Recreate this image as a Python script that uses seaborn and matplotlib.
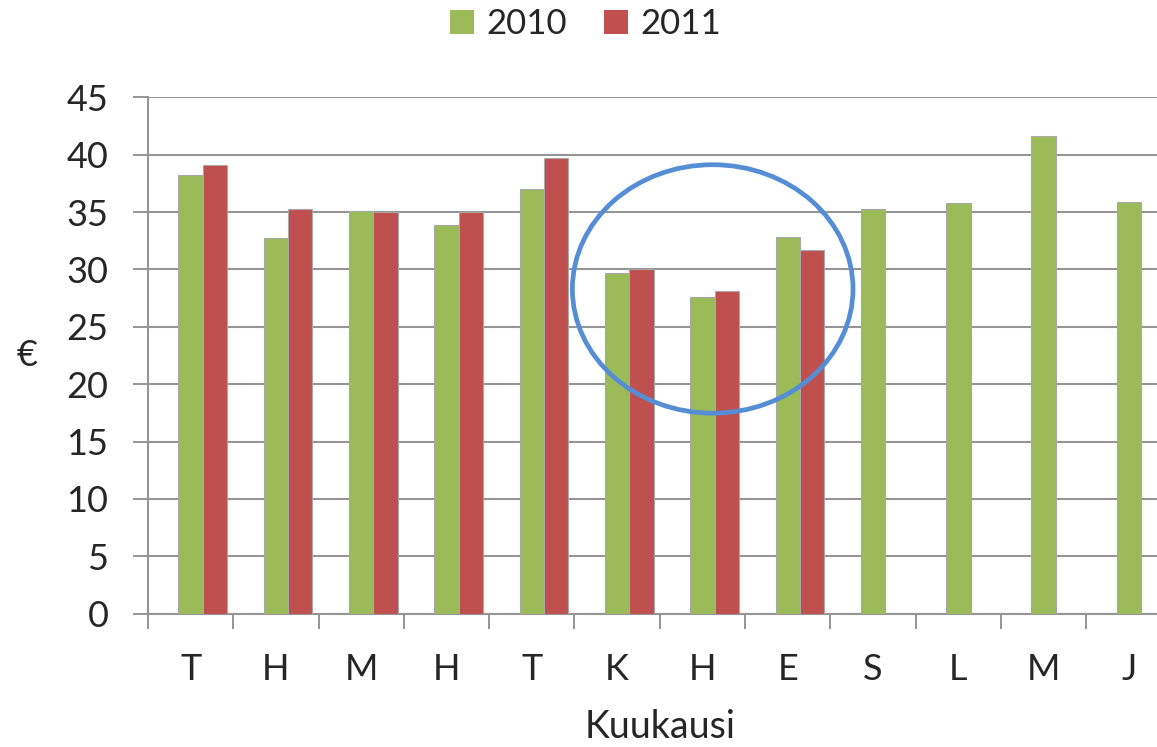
import numpy as np
import pandas as pd
import matplotlib
matplotlib.use("Agg")
import matplotlib.pyplot as plt
from matplotlib.patches import Ellipse, Patch
import seaborn as sns

# ---- data ----
months = ["Tammikuu", "Helmikuu", "Maaliskuu", "Huhtikuu", "Toukokuu", "Kesäkuu",
          "Heinäkuu", "Elokuu", "Syyskuu", "Lokakuu", "Marraskuu", "Joulukuu"]
month_labels = ["T", "H", "M", "H", "T", "K", "H", "E", "S", "L", "M", "J"]
values_2010 = [38.2, 32.7, 35.1, 33.9, 37.0, 29.7, 27.6, 32.8, 35.3, 35.8, 41.6, 35.9]
values_2011 = [39.1, 35.3, 35.0, 35.0, 39.7, 30.0, 28.1, 31.7]
series = ["2010", "2011"]
y_ticks = [0, 5, 10, 15, 20, 25, 30, 35, 40, 45]

# annotation ellipse (data coordinates)
ellipse_center = (6.12, 28.3)
ellipse_size = (3.29, 21.65)

GREEN = "#9BBB59"
RED = "#C0504D"
GRID = "#959595"
BLUE = "#558ED5"

df = pd.concat([
    pd.DataFrame({"kuukausi": months[:len(values_2010)], "euro": values_2010, "vuosi": "2010"}),
    pd.DataFrame({"kuukausi": months[:len(values_2011)], "euro": values_2011, "vuosi": "2011"}),
], ignore_index=True)

sns.set_theme(style="white")
plt.rcParams["font.family"] = ["Lato", "DejaVu Sans"]

W, H = 1157, 747
fig = plt.figure(figsize=(W / 100, H / 100), dpi=100)
left, right, top, bottom = 148, 1171.6, 97.3, 613.7
ax = fig.add_axes([left / W, (H - bottom) / H, (right - left) / W, (bottom - top) / H])

pad_level = "_pad"
sns.barplot(data=df, x="kuukausi", y="euro", hue="vuosi", order=months,
            hue_order=[pad_level] + series,
            palette={pad_level: "white", "2010": GREEN, "2011": RED},
            width=0.855, dodge=True, saturation=1, errorbar=None,
            edgecolor="#a8a8a8", linewidth=0.8, legend=False, ax=ax, zorder=3)

ax.add_patch(Ellipse(ellipse_center, ellipse_size[0], ellipse_size[1], fill=False,
                     edgecolor=BLUE, linewidth=3.4, zorder=5))

ax.set_xlim(-0.5, len(months) - 0.5)
ax.set_ylim(0, 45)
ax.set_yticks(y_ticks)
ax.set_yticklabels([str(v) for v in y_ticks], fontsize=26)
ax.set_xticks(range(len(months)))
ax.set_xticklabels(month_labels, fontsize=26)
ax.set_xticks(np.arange(-0.5, len(months), 1), minor=True)

ax.tick_params(axis="x", which="major", length=0, pad=28, bottom=True)
ax.tick_params(axis="x", which="minor", length=10.5, width=1.4, color=GRID, bottom=True, direction="out")
ax.tick_params(axis="y", which="major", length=10.5, width=1.4, color=GRID, left=True, direction="out", pad=18)

ax.yaxis.grid(True, color=GRID, linewidth=1.5, zorder=0)
ax.xaxis.grid(False)
ax.set_axisbelow(True)
for s in ["top", "right"]:
    ax.spines[s].set_visible(False)
for s in ["left", "bottom"]:
    ax.spines[s].set_color(GRID)
    ax.spines[s].set_linewidth(1.5)

ax.set_xlabel("Kuukausi", fontsize=27)
ax.set_ylabel("€", fontsize=26, rotation=0)
ax.xaxis.set_label_coords(0.5, -0.219)
ax.xaxis.label.set_va("center")
ax.yaxis.set_label_coords(-0.118, 0.5)
ax.yaxis.label.set_va("center")
ax.yaxis.label.set_ha("center")

handles = [Patch(facecolor=GREEN, edgecolor="none"), Patch(facecolor=RED, edgecolor="none")]
fig.legend(handles, series, loc="center", bbox_to_anchor=(585.5 / W, 1 - 24 / H),
           ncol=2, frameon=False, fontsize=25, handlelength=0.7, handleheight=0.7,
           handletextpad=0.36, columnspacing=1.05)

fig.savefig("out.png", dpi=100, facecolor="white")
